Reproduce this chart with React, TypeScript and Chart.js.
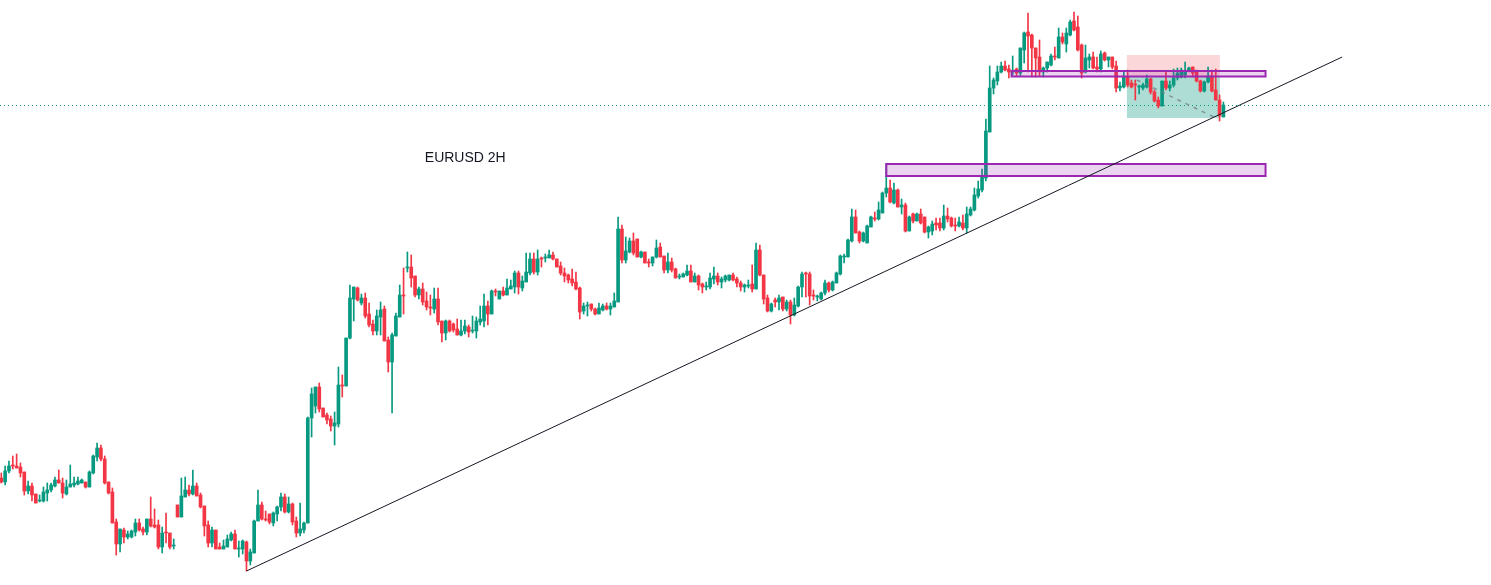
import React, { useEffect, useRef } from "react";
import { Chart, registerables } from "chart.js";

Chart.register(...registerables);

// EURUSD 2H candles
const opens = [
  1.0722, 1.0718, 1.0729, 1.0735, 1.0734, 1.0733, 1.0728, 1.0709, 1.0714, 1.0706,
  1.0699, 1.0699, 1.0707, 1.0710, 1.0714, 1.0720, 1.0717, 1.0706, 1.0713, 1.0715,
  1.0716, 1.0717, 1.0718, 1.0713, 1.0727, 1.0743, 1.0752, 1.0741, 1.0718, 1.0708,
  1.0678, 1.0656, 1.0670, 1.0663, 1.0663, 1.0668, 1.0677, 1.0671, 1.0668, 1.0681,
  1.0675, 1.0675, 1.0653, 1.0668, 1.0667, 1.0654, 1.0695, 1.0683, 1.0703, 1.0710,
  1.0706, 1.0714, 1.0705, 1.0694, 1.0675, 1.0657, 1.0670, 1.0653, 1.0651, 1.0653,
  1.0660, 1.0666, 1.0651, 1.0651, 1.0658, 1.0639, 1.0647, 1.0679, 1.0695, 1.0681,
  1.0686, 1.0677, 1.0686, 1.0693, 1.0703, 1.0688, 1.0696, 1.0679, 1.0667, 1.0670,
  1.0677, 1.0782, 1.0794, 1.0813, 1.0792, 1.0785, 1.0781, 1.0774, 1.0776, 1.0815,
  1.0814, 1.0862, 1.0901, 1.0912, 1.0897, 1.0902, 1.0886, 1.0876, 1.0869, 1.0883,
  1.0891, 1.0860, 1.0838, 1.0864, 1.0883, 1.0905, 1.0932, 1.0933, 1.0924, 1.0905,
  1.0911, 1.0899, 1.0893, 1.0891, 1.0901, 1.0879, 1.0867, 1.0879, 1.0876, 1.0871,
  1.0865, 1.0869, 1.0873, 1.0869, 1.0869, 1.0878, 1.0879, 1.0894, 1.0886, 1.0909,
  1.0901, 1.0909, 1.0905, 1.0911, 1.0913, 1.0927, 1.0912, 1.0918, 1.0927, 1.0941,
  1.0928, 1.0942, 1.0942, 1.0942, 1.0945, 1.0941, 1.0934, 1.0927, 1.0925, 1.0921,
  1.0918, 1.0912, 1.0889, 1.0894, 1.0896, 1.0891, 1.0886, 1.0890, 1.0894, 1.0891,
  1.0893, 1.0898, 1.0971, 1.0940, 1.0948, 1.0959, 1.0961, 1.0943, 1.0948, 1.0938,
  1.0937, 1.0943, 1.0953, 1.0944, 1.0930, 1.0938, 1.0931, 1.0923, 1.0923, 1.0925,
  1.0929, 1.0918, 1.0924, 1.0916, 1.0913, 1.0913, 1.0921, 1.0924, 1.0918, 1.0920,
  1.0920, 1.0925, 1.0921, 1.0917, 1.0913, 1.0914, 1.0916, 1.0911, 1.0950, 1.0925,
  1.0902, 1.0889, 1.0900, 1.0898, 1.0903, 1.0891, 1.0898, 1.0885, 1.0894, 1.0913,
  1.0927, 1.0926, 1.0905, 1.0903, 1.0901, 1.0907, 1.0917, 1.0910, 1.0917, 1.0926,
  1.0943, 1.0943, 1.0959, 1.0983, 1.0968, 1.0959, 1.0957, 1.0973, 1.0982, 1.0981,
  1.0987, 1.1007, 1.1012, 1.0997, 1.1010, 1.0993, 1.0995, 1.0969, 1.0986, 1.0979,
  1.0986, 1.0983, 1.0968, 1.0969, 1.0977, 1.0977, 1.0972, 1.0984, 1.0982, 1.0975,
  1.0974, 1.0977, 1.0972, 1.0985, 1.0990, 1.1004, 1.1010, 1.1022, 1.1068, 1.1112,
  1.1119, 1.1128, 1.1134, 1.1131, 1.1128, 1.1131, 1.1127, 1.1150, 1.1168, 1.1165,
  1.1152, 1.1143, 1.1128, 1.1132, 1.1135, 1.1144, 1.1142, 1.1163, 1.1156, 1.1165,
  1.1179, 1.1173, 1.1155, 1.1128, 1.1140, 1.1143, 1.1133, 1.1131, 1.1147, 1.1140,
  1.1143, 1.1134, 1.1112, 1.1113, 1.1123, 1.1117, 1.1116, 1.1113, 1.1112, 1.1113,
  1.1121, 1.1108, 1.1100, 1.1094, 1.1119, 1.1112, 1.1115, 1.1122, 1.1123, 1.1125,
  1.1129, 1.1133, 1.1129, 1.1119, 1.1109, 1.1118, 1.1124, 1.1110, 1.1100, 1.1083,
];

const highs = [
  1.0727, 1.0734, 1.0739, 1.0744, 1.0746, 1.0737, 1.0728, 1.0719, 1.0717, 1.0706,
  1.0705, 1.0713, 1.0717, 1.0717, 1.0723, 1.0730, 1.0722, 1.0720, 1.0735, 1.0723,
  1.0723, 1.0721, 1.0718, 1.0729, 1.0745, 1.0757, 1.0755, 1.0744, 1.0718, 1.0712,
  1.0681, 1.0671, 1.0672, 1.0669, 1.0670, 1.0681, 1.0681, 1.0673, 1.0681, 1.0703,
  1.0691, 1.0680, 1.0673, 1.0687, 1.0667, 1.0661, 1.0695, 1.0722, 1.0723, 1.0715,
  1.0730, 1.0717, 1.0707, 1.0694, 1.0679, 1.0673, 1.0670, 1.0657, 1.0660, 1.0665,
  1.0668, 1.0670, 1.0659, 1.0660, 1.0659, 1.0651, 1.0680, 1.0710, 1.0698, 1.0689,
  1.0686, 1.0688, 1.0694, 1.0707, 1.0706, 1.0703, 1.0697, 1.0683, 1.0697, 1.0678,
  1.0783, 1.0812, 1.0813, 1.0817, 1.0792, 1.0787, 1.0784, 1.0788, 1.0833, 1.0825,
  1.0862, 1.0915, 1.0913, 1.0913, 1.0906, 1.0907, 1.0897, 1.0880, 1.0890, 1.0898,
  1.0894, 1.0863, 1.0867, 1.0887, 1.0915, 1.0932, 1.0948, 1.0945, 1.0924, 1.0913,
  1.0917, 1.0908, 1.0905, 1.0912, 1.0912, 1.0879, 1.0880, 1.0880, 1.0877, 1.0881,
  1.0880, 1.0880, 1.0875, 1.0884, 1.0883, 1.0894, 1.0906, 1.0899, 1.0910, 1.0911,
  1.0909, 1.0913, 1.0921, 1.0920, 1.0929, 1.0929, 1.0924, 1.0947, 1.0947, 1.0947,
  1.0950, 1.0943, 1.0946, 1.0950, 1.0948, 1.0941, 1.0938, 1.0932, 1.0926, 1.0931,
  1.0928, 1.0913, 1.0897, 1.0898, 1.0896, 1.0892, 1.0897, 1.0896, 1.0897, 1.0897,
  1.0907, 1.0983, 1.0975, 1.0963, 1.0962, 1.0967, 1.0961, 1.0949, 1.0948, 1.0941,
  1.0943, 1.0960, 1.0957, 1.0944, 1.0947, 1.0942, 1.0932, 1.0926, 1.0927, 1.0935,
  1.0935, 1.0927, 1.0925, 1.0917, 1.0918, 1.0927, 1.0933, 1.0927, 1.0923, 1.0925,
  1.0925, 1.0927, 1.0923, 1.0919, 1.0916, 1.0920, 1.0935, 1.0957, 1.0955, 1.0925,
  1.0905, 1.0897, 1.0902, 1.0905, 1.0903, 1.0900, 1.0900, 1.0902, 1.0914, 1.0928,
  1.0928, 1.0928, 1.0910, 1.0905, 1.0908, 1.0920, 1.0918, 1.0919, 1.0928, 1.0945,
  1.0946, 1.0961, 1.0991, 1.0990, 1.0969, 1.0968, 1.0975, 1.0984, 1.0988, 1.0998,
  1.1008, 1.1036, 1.1020, 1.1017, 1.1011, 1.1001, 1.0997, 1.0984, 1.0987, 1.0987,
  1.0991, 1.0983, 1.0974, 1.0979, 1.0982, 1.0982, 1.0995, 1.0992, 1.0983, 1.0982,
  1.0983, 1.0985, 1.0993, 1.0993, 1.1012, 1.1019, 1.1031, 1.1081, 1.1134, 1.1122,
  1.1134, 1.1138, 1.1139, 1.1135, 1.1144, 1.1132, 1.1152, 1.1168, 1.1187, 1.1166,
  1.1152, 1.1160, 1.1133, 1.1138, 1.1146, 1.1153, 1.1172, 1.1167, 1.1172, 1.1180,
  1.1188, 1.1184, 1.1156, 1.1155, 1.1146, 1.1148, 1.1143, 1.1149, 1.1148, 1.1143,
  1.1143, 1.1139, 1.1118, 1.1128, 1.1130, 1.1120, 1.1120, 1.1115, 1.1117, 1.1125,
  1.1122, 1.1110, 1.1103, 1.1119, 1.1128, 1.1119, 1.1131, 1.1132, 1.1132, 1.1138,
  1.1133, 1.1133, 1.1130, 1.1120, 1.1119, 1.1133, 1.1130, 1.1131, 1.1105, 1.1098,
];

const lows = [
  1.0717, 1.0715, 1.0727, 1.0731, 1.0732, 1.0723, 1.0705, 1.0706, 1.0699, 1.0697,
  1.0698, 1.0698, 1.0699, 1.0708, 1.0713, 1.0717, 1.0702, 1.0705, 1.0713, 1.0713,
  1.0715, 1.0717, 1.0712, 1.0713, 1.0726, 1.0739, 1.0739, 1.0716, 1.0706, 1.0677,
  1.0645, 1.0648, 1.0657, 1.0661, 1.0662, 1.0664, 1.0669, 1.0665, 1.0665, 1.0673,
  1.0672, 1.0651, 1.0647, 1.0657, 1.0651, 1.0651, 1.0683, 1.0683, 1.0703, 1.0704,
  1.0705, 1.0704, 1.0692, 1.0664, 1.0653, 1.0653, 1.0651, 1.0651, 1.0651, 1.0653,
  1.0659, 1.0651, 1.0643, 1.0646, 1.0629, 1.0635, 1.0647, 1.0679, 1.0680, 1.0679,
  1.0676, 1.0674, 1.0679, 1.0689, 1.0687, 1.0687, 1.0675, 1.0663, 1.0664, 1.0667,
  1.0677, 1.0763, 1.0787, 1.0788, 1.0783, 1.0776, 1.0769, 1.0755, 1.0773, 1.0803,
  1.0814, 1.0861, 1.0879, 1.0899, 1.0895, 1.0882, 1.0873, 1.0865, 1.0865, 1.0865,
  1.0859, 1.0828, 1.0787, 1.0864, 1.0883, 1.0886, 1.0928, 1.0913, 1.0903, 1.0901,
  1.0895, 1.0890, 1.0885, 1.0887, 1.0875, 1.0858, 1.0860, 1.0868, 1.0868, 1.0865,
  1.0864, 1.0866, 1.0863, 1.0867, 1.0862, 1.0875, 1.0873, 1.0875, 1.0886, 1.0904,
  1.0901, 1.0904, 1.0905, 1.0911, 1.0907, 1.0906, 1.0909, 1.0918, 1.0925, 1.0926,
  1.0925, 1.0933, 1.0938, 1.0942, 1.0940, 1.0933, 1.0925, 1.0918, 1.0917, 1.0914,
  1.0910, 1.0881, 1.0886, 1.0884, 1.0889, 1.0885, 1.0886, 1.0889, 1.0890, 1.0885,
  1.0893, 1.0898, 1.0937, 1.0937, 1.0947, 1.0945, 1.0943, 1.0942, 1.0937, 1.0933,
  1.0934, 1.0942, 1.0943, 1.0927, 1.0927, 1.0928, 1.0922, 1.0921, 1.0923, 1.0924,
  1.0918, 1.0918, 1.0910, 1.0907, 1.0910, 1.0911, 1.0916, 1.0915, 1.0912, 1.0918,
  1.0919, 1.0919, 1.0913, 1.0909, 1.0908, 1.0912, 1.0908, 1.0911, 1.0924, 1.0896,
  1.0888, 1.0888, 1.0893, 1.0890, 1.0889, 1.0889, 1.0876, 1.0884, 1.0893, 1.0903,
  1.0903, 1.0895, 1.0900, 1.0899, 1.0900, 1.0905, 1.0908, 1.0909, 1.0917, 1.0925,
  1.0937, 1.0943, 1.0958, 1.0967, 1.0957, 1.0958, 1.0957, 1.0973, 1.0979, 1.0980,
  1.0987, 1.1003, 1.0997, 1.0996, 1.0993, 1.0986, 1.0968, 1.0969, 1.0977, 1.0979,
  1.0976, 1.0967, 1.0962, 1.0965, 1.0970, 1.0969, 1.0970, 1.0978, 1.0973, 1.0969,
  1.0973, 1.0970, 1.0967, 1.0984, 1.0989, 1.1002, 1.1008, 1.1019, 1.1068, 1.1106,
  1.1115, 1.1127, 1.1129, 1.1122, 1.1125, 1.1124, 1.1124, 1.1137, 1.1128, 1.1123,
  1.1123, 1.1124, 1.1123, 1.1128, 1.1134, 1.1140, 1.1142, 1.1156, 1.1148, 1.1164,
  1.1169, 1.1149, 1.1122, 1.1127, 1.1132, 1.1131, 1.1128, 1.1128, 1.1139, 1.1133,
  1.1131, 1.1108, 1.1109, 1.1112, 1.1113, 1.1112, 1.1100, 1.1106, 1.1110, 1.1112,
  1.1106, 1.1098, 1.1092, 1.1094, 1.1110, 1.1109, 1.1113, 1.1120, 1.1122, 1.1122,
  1.1128, 1.1123, 1.1118, 1.1108, 1.1108, 1.1117, 1.1108, 1.1100, 1.1079, 1.1083,
];

const closes = [
  1.0718, 1.0729, 1.0734, 1.0734, 1.0732, 1.0727, 1.0709, 1.0714, 1.0705, 1.0697,
  1.0700, 1.0708, 1.0710, 1.0715, 1.0720, 1.0717, 1.0707, 1.0713, 1.0716, 1.0717,
  1.0719, 1.0720, 1.0713, 1.0728, 1.0744, 1.0752, 1.0741, 1.0717, 1.0707, 1.0677,
  1.0656, 1.0671, 1.0663, 1.0666, 1.0669, 1.0677, 1.0670, 1.0668, 1.0681, 1.0674,
  1.0673, 1.0653, 1.0667, 1.0667, 1.0653, 1.0655, 1.0683, 1.0704, 1.0710, 1.0706,
  1.0714, 1.0704, 1.0693, 1.0674, 1.0657, 1.0670, 1.0651, 1.0651, 1.0654, 1.0661,
  1.0666, 1.0651, 1.0652, 1.0659, 1.0639, 1.0648, 1.0679, 1.0695, 1.0681, 1.0680,
  1.0678, 1.0687, 1.0693, 1.0703, 1.0688, 1.0696, 1.0678, 1.0667, 1.0671, 1.0677,
  1.0782, 1.0806, 1.0813, 1.0791, 1.0783, 1.0780, 1.0774, 1.0777, 1.0815, 1.0814,
  1.0862, 1.0902, 1.0913, 1.0900, 1.0902, 1.0884, 1.0875, 1.0869, 1.0884, 1.0890,
  1.0859, 1.0838, 1.0865, 1.0884, 1.0905, 1.0904, 1.0933, 1.0922, 1.0905, 1.0911,
  1.0898, 1.0893, 1.0892, 1.0901, 1.0878, 1.0867, 1.0879, 1.0869, 1.0870, 1.0865,
  1.0869, 1.0874, 1.0868, 1.0870, 1.0879, 1.0881, 1.0894, 1.0886, 1.0909, 1.0908,
  1.0909, 1.0905, 1.0912, 1.0914, 1.0927, 1.0913, 1.0919, 1.0928, 1.0941, 1.0928,
  1.0941, 1.0941, 1.0943, 1.0945, 1.0941, 1.0933, 1.0927, 1.0924, 1.0920, 1.0917,
  1.0911, 1.0888, 1.0894, 1.0895, 1.0891, 1.0886, 1.0892, 1.0894, 1.0891, 1.0894,
  1.0899, 1.0971, 1.0940, 1.0949, 1.0959, 1.0947, 1.0943, 1.0948, 1.0937, 1.0937,
  1.0943, 1.0952, 1.0943, 1.0930, 1.0938, 1.0930, 1.0922, 1.0924, 1.0926, 1.0929,
  1.0918, 1.0924, 1.0915, 1.0913, 1.0914, 1.0922, 1.0924, 1.0918, 1.0921, 1.0924,
  1.0925, 1.0920, 1.0917, 1.0913, 1.0915, 1.0915, 1.0911, 1.0950, 1.0925, 1.0901,
  1.0889, 1.0896, 1.0898, 1.0902, 1.0891, 1.0898, 1.0885, 1.0895, 1.0913, 1.0926,
  1.0926, 1.0904, 1.0904, 1.0904, 1.0907, 1.0917, 1.0910, 1.0918, 1.0927, 1.0944,
  1.0944, 1.0960, 1.0983, 1.0967, 1.0959, 1.0967, 1.0974, 1.0983, 1.0981, 1.0990,
  1.1007, 1.1012, 1.0998, 1.1010, 1.0993, 1.0995, 1.0969, 1.0983, 1.0979, 1.0986,
  1.0977, 1.0968, 1.0973, 1.0976, 1.0975, 1.0972, 1.0984, 1.0981, 1.0974, 1.0974,
  1.0978, 1.0972, 1.0986, 1.0991, 1.1005, 1.1011, 1.1023, 1.1069, 1.1112, 1.1120,
  1.1128, 1.1134, 1.1130, 1.1128, 1.1129, 1.1127, 1.1152, 1.1167, 1.1164, 1.1152,
  1.1142, 1.1128, 1.1132, 1.1138, 1.1144, 1.1143, 1.1163, 1.1158, 1.1167, 1.1178,
  1.1170, 1.1150, 1.1127, 1.1142, 1.1143, 1.1132, 1.1131, 1.1146, 1.1140, 1.1143,
  1.1133, 1.1112, 1.1114, 1.1123, 1.1115, 1.1113, 1.1115, 1.1114, 1.1115, 1.1121,
  1.1108, 1.1099, 1.1094, 1.1119, 1.1112, 1.1115, 1.1122, 1.1127, 1.1130, 1.1128,
  1.1132, 1.1127, 1.1119, 1.1109, 1.1118, 1.1124, 1.1109, 1.1100, 1.1084, 1.1095,
];

// Drawings on the chart (bar index, price)
const zones = [
  { from: 231, to: 330, top: 1.1036, bottom: 1.1024 },
  { from: 263.7, to: 330, top: 1.1129, bottom: 1.11235 },
];
const position = { from: 293.8, to: 318.1, stop: 1.1145, entry: 1.1123, target: 1.1082 };
const positionPath = { from: 296.4, to: 317.6, start: 1.112, end: 1.1081 };
const trend = { from: 64, to: 350, start: lows[64], end: 1.1143 };
const label = { x: 121.1, y: 1.1042, text: "EURUSD 2H" };

const X_MIN = -0.34;
const X_MAX = 388.85;
const Y_MIN = 1.0615;
const Y_MAX = 1.12;

const UP = "#089981";
const DOWN = "#f23645";

const drawingsPlugin = {
  id: "drawings",
  beforeDatasetsDraw(chart: any) {
    const { ctx, chartArea } = chart;
    const xs = chart.scales.x;
    const ys = chart.scales.y;
    const px = (v: number) => xs.getPixelForValue(v);
    const py = (v: number) => ys.getPixelForValue(v);
    ctx.save();
    const l = px(position.from);
    const r = px(position.to);
    ctx.fillStyle = "rgba(242,54,69,0.2)";
    ctx.fillRect(l, py(position.stop), r - l, py(position.entry) - py(position.stop));
    ctx.fillStyle = "rgba(8,153,129,0.33)";
    ctx.fillRect(l, py(position.entry), r - l, py(position.target) - py(position.entry));
    // last price dotted line
    const last = closes[closes.length - 1];
    const yl = Math.round(py(last)) + 0.5;
    ctx.strokeStyle = closes[closes.length - 1] >= opens[opens.length - 1] ? UP : DOWN;
    ctx.lineWidth = 1;
    ctx.setLineDash([1, 3]);
    ctx.beginPath();
    ctx.moveTo(chartArea.left, yl);
    ctx.lineTo(chartArea.right, yl);
    ctx.stroke();
    ctx.restore();
  },
  afterDatasetsDraw(chart: any) {
    const { ctx } = chart;
    const xs = chart.scales.x;
    const ys = chart.scales.y;
    const px = (v: number) => xs.getPixelForValue(v);
    const py = (v: number) => ys.getPixelForValue(v);
    ctx.save();
    // dashed path of the position tool
    ctx.strokeStyle = "rgba(120,123,134,0.75)";
    ctx.lineWidth = 1.5;
    ctx.setLineDash([4, 5]);
    ctx.beginPath();
    ctx.moveTo(px(positionPath.from), py(positionPath.start));
    ctx.lineTo(px(positionPath.to), py(positionPath.end));
    ctx.stroke();
    ctx.setLineDash([]);
    // zones
    zones.forEach((z) => {
      const l = px(z.from);
      const r = px(z.to);
      const t = py(z.top);
      const b = py(z.bottom);
      ctx.fillStyle = "rgba(156,39,176,0.2)";
      ctx.fillRect(l, t, r - l, b - t);
      ctx.strokeStyle = "#9c27b0";
      ctx.lineWidth = 2;
      ctx.strokeRect(l, t, r - l, b - t);
    });
    // trend line
    ctx.strokeStyle = "#131722";
    ctx.lineWidth = 1;
    ctx.beginPath();
    ctx.moveTo(px(trend.from), py(trend.start));
    ctx.lineTo(px(trend.to), py(trend.end));
    ctx.stroke();
    // label
    ctx.fillStyle = "#131722";
    ctx.font = '14px "Liberation Sans", Arial, sans-serif';
    ctx.textAlign = "center";
    ctx.textBaseline = "middle";
    ctx.fillText(label.text, px(label.x), py(label.y));
    ctx.restore();
  },
};

export default function App() {
  const ref = useRef<HTMLCanvasElement | null>(null);

  useEffect(() => {
    if (!ref.current) return;
    const idx = closes.map((_, i) => i);
    const colors = idx.map((i) => (closes[i] >= opens[i] ? UP : DOWN));
    const chart = new Chart(ref.current, {
      type: "bar",
      data: {
        datasets: [
          {
            label: "body",
            data: idx.map((i) => ({ x: i, y: [opens[i], closes[i]] })) as any,
            backgroundColor: colors,
            borderWidth: 0,
            barThickness: 3,
            minBarLength: 1,
            grouped: false,
            order: 0,
          } as any,
          {
            label: "wick",
            data: idx.map((i) => ({ x: i, y: [lows[i], highs[i]] })) as any,
            backgroundColor: colors,
            borderWidth: 0,
            barThickness: 1,
            minBarLength: 1,
            grouped: false,
            order: 1,
          } as any,
        ],
      },
      options: {
        responsive: false,
        animation: false,
        events: [],
        layout: { padding: 0 },
        plugins: {
          legend: { display: false },
          tooltip: { enabled: false },
        },
        scales: {
          x: { type: "linear", min: X_MIN, max: X_MAX, offset: false, display: false },
          y: { type: "linear", min: Y_MIN, max: Y_MAX, beginAtZero: false, display: false },
        },
      },
      plugins: [drawingsPlugin],
    });
    return () => chart.destroy();
  }, []);

  return (
    <div style={{ position: "fixed", left: 0, top: 0, width: 1491, height: 585, background: "#ffffff" }}>
      <canvas ref={ref} width={1491} height={585} style={{ display: "block" }} />
    </div>
  );
}
